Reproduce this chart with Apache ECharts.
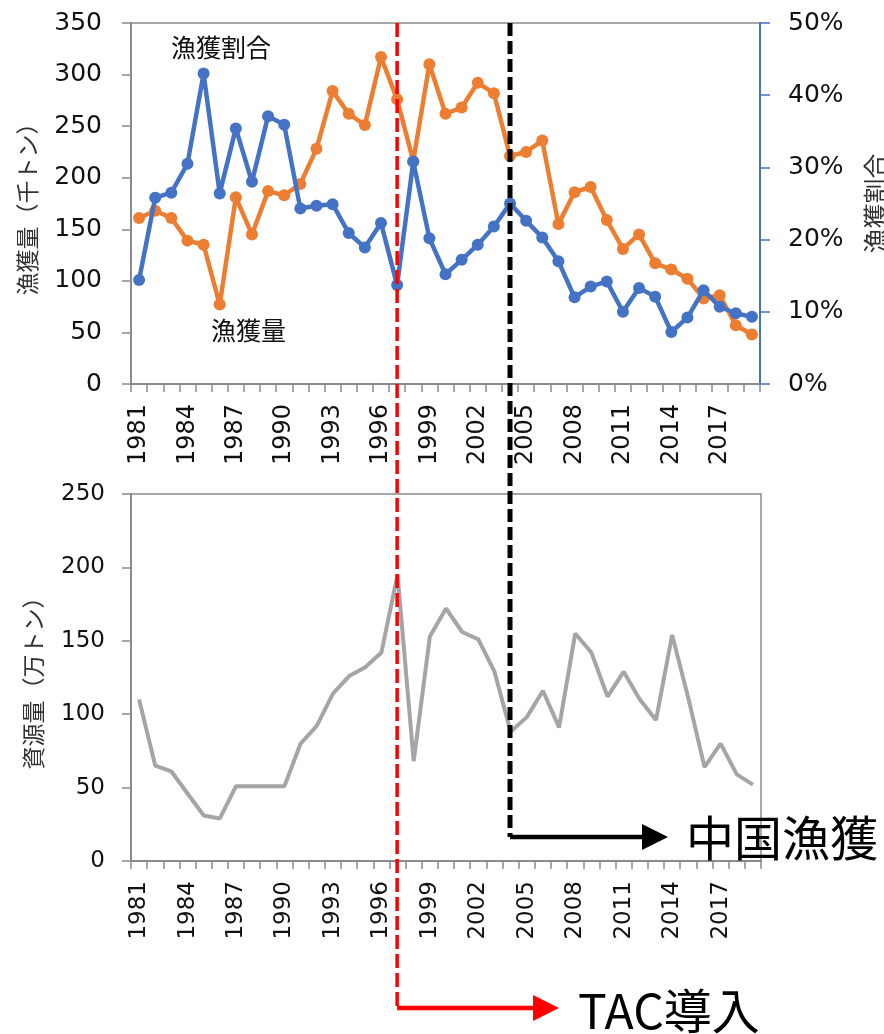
<!DOCTYPE html>
<html><head><meta charset="utf-8">
<script src="https://cdn.jsdelivr.net/npm/echarts@6/dist/echarts.min.js"></script>
<style>html,body{margin:0;padding:0;background:#fff;overflow:hidden}#c{width:884px;height:1034px}</style>
</head><body><div id="c"></div>
<script>
const years = ['1981','1982','1983','1984','1985','1986','1987','1988','1989','1990',
  '1991','1992','1993','1994','1995','1996','1997','1998','1999','2000',
  '2001','2002','2003','2004','2005','2006','2007','2008','2009','2010',
  '2011','2012','2013','2014','2015','2016','2017','2018','2019'];
// 漁獲量 (千トン)
const catchAmount = [161,168,161,139,135,77,181,145,187,183,
  194,228,284,262,251,317,276,216,310,262,
  268,292,282,221,225,236,155,186,191,159,
  131,145,117,111,102,83,86,57,48];
// 漁獲割合 (%)
const catchRatio = [14.4,25.8,26.5,30.5,43.0,26.4,35.4,28.0,37.1,35.9,
  24.3,24.7,24.9,20.9,18.9,22.3,13.7,30.8,20.2,15.2,
  17.2,19.3,21.8,25.0,22.6,20.3,17.0,12.0,13.5,14.2,
  10.0,13.3,12.1,7.2,9.2,13.0,10.7,9.8,9.3];
// 資源量 (万トン)
const biomass = [110,65,61,46,31,29,51,51,51,51,
  80,92,114,126,132,142,195,68,153,172,
  156,151,129,88,98,116,91,155,142,112,
  129,110,96,154,111,64,80,59,52];
const tacYear = '1997';
const chinaYear = '2004';

const NUM_FONT = 'DejaVu Sans';
const JP_FONT = '"Noto Sans CJK JP"';
const AX = '#8a8a8a';
const TXT = '#111';

const chart = echarts.init(document.getElementById('c'), null, {renderer:'canvas'});
function xAxisFor(grid, fs){
  return {
    gridIndex:grid, type:'category', data: years, boundaryGap: true,
    axisLine:{lineStyle:{color:AX,width:2}},
    axisTick:{show:true, interval:0, length:8, lineStyle:{color:AX,width:1.5}},
    axisLabel:{interval:2, rotate:90, margin:20, fontFamily:NUM_FONT, fontSize:fs, color:TXT},
    splitLine:{show:false}
  };
}
const option = {
  animation:false,
  backgroundColor:'#fff',
  grid:[
    {left:131, right:124, top:23, height:361, show:true, borderColor:AX, borderWidth:1.5, backgroundColor:'transparent', containLabel:false, outerBoundsMode:'none'},
    {left:131, right:123, top:494, height:367, show:true, borderColor:AX, borderWidth:1.5, backgroundColor:'transparent', containLabel:false, outerBoundsMode:'none'}
  ],
  xAxis:[ xAxisFor(0, 24), xAxisFor(1, 23) ],
  yAxis:[
    {gridIndex:0, type:'value', min:0, max:350, interval:50,
     name:'漁獲量（千トン）', nameLocation:'middle', nameRotate:90, nameGap:92,
     nameTextStyle:{fontFamily:JP_FONT, fontSize:23, color:'#333'},
     axisLine:{show:true, lineStyle:{color:AX,width:2}},
     axisTick:{show:true, length:9, lineStyle:{color:AX,width:1.5}},
     axisLabel:{margin:29, fontFamily:NUM_FONT, fontSize:25, color:TXT},
     splitLine:{show:false}},
    {gridIndex:0, type:'value', min:0, max:50, interval:10, position:'right',
     name:'漁獲割合', nameLocation:'middle', nameRotate:90, nameGap:103,
     nameTextStyle:{fontFamily:JP_FONT, fontSize:25, color:'#333'},
     axisLine:{show:true, lineStyle:{color:'#4472C4',width:2}},
     axisTick:{show:true, length:10, lineStyle:{color:'#4472C4',width:1.5}},
     axisLabel:{margin:28, formatter:'{value}%', fontFamily:NUM_FONT, fontSize:25, color:TXT},
     splitLine:{show:false}},
    {gridIndex:1, type:'value', min:0, max:250, interval:50,
     name:'資源量（万トン）', nameLocation:'middle', nameRotate:90, nameGap:86,
     nameTextStyle:{fontFamily:JP_FONT, fontSize:23, color:'#333'},
     axisLine:{show:true, lineStyle:{color:AX,width:2}},
     axisTick:{show:true, length:9, lineStyle:{color:AX,width:1.5}},
     axisLabel:{margin:26, fontFamily:NUM_FONT, fontSize:23, color:TXT},
     splitLine:{show:false}}
  ],
  series:[
    {name:'漁獲量', type:'line', xAxisIndex:0, yAxisIndex:0, data:catchAmount,
     symbol:'circle', symbolSize:12, showAllSymbol:true, lineStyle:{color:'#ED7D31', width:4.5},
     itemStyle:{color:'#ED7D31'}, z:2},
    {name:'漁獲割合', type:'line', xAxisIndex:0, yAxisIndex:1, data:catchRatio,
     symbol:'circle', symbolSize:12, showAllSymbol:true, lineStyle:{color:'#4472C4', width:4.5},
     itemStyle:{color:'#4472C4'}, z:3},
    {name:'資源量', type:'line', xAxisIndex:1, yAxisIndex:2, data:biomass,
     symbol:'none', lineStyle:{color:'#A5A5A5', width:4}, z:2}
  ]
};
chart.setOption(option);

function annotations(){
  const xr = chart.convertToPixel({xAxisIndex:0}, years.indexOf(tacYear));
  const xb = chart.convertToPixel({xAxisIndex:0}, years.indexOf(chinaYear));
  const yTop = chart.convertToPixel({yAxisIndex:0}, 350);
  const yRed = 1008, yBlack = 837;
  return [
    {type:'text', z:50, style:{text:'漁獲割合', x:171, y:47, verticalAlign:'middle', font:'25px ' + JP_FONT, fill:TXT}},
    {type:'text', z:50, style:{text:'漁獲量', x:211, y:330, verticalAlign:'middle', font:'25px ' + JP_FONT, fill:TXT}},
    {type:'line', z:100, shape:{x1:xb, y1:yTop, x2:xb, y2:yBlack}, style:{stroke:'#000', lineWidth:5, lineDash:[13,5]}},
    {type:'line', z:100, shape:{x1:xb, y1:yBlack, x2:644, y2:yBlack}, style:{stroke:'#000', lineWidth:4.5}},
    {type:'polygon', z:100, shape:{points:[[642,yBlack-13],[668,yBlack],[642,yBlack+13]]}, style:{fill:'#000'}},
    {type:'text', z:100, style:{text:'中国漁獲', x:686, y:yBlack+1, verticalAlign:'middle', font:'48px ' + JP_FONT, fill:'#000'}},
    {type:'line', z:101, shape:{x1:xr, y1:yTop, x2:xr, y2:yRed}, style:{stroke:'#FF0000', lineWidth:3.5, lineDash:[14,5]}},
    {type:'line', z:101, shape:{x1:xr, y1:yRed, x2:535, y2:yRed}, style:{stroke:'#FF0000', lineWidth:4.5}},
    {type:'polygon', z:101, shape:{points:[[533,yRed-13],[559,yRed],[533,yRed+13]]}, style:{fill:'#FF0000'}},
    {type:'text', z:101, style:{text:'TAC導入', x:578, y:yRed+3, verticalAlign:'middle', font:'48px ' + JP_FONT, fill:'#000'}}
  ];
}
chart.setOption({graphic: annotations()});
</script>
</body></html>
